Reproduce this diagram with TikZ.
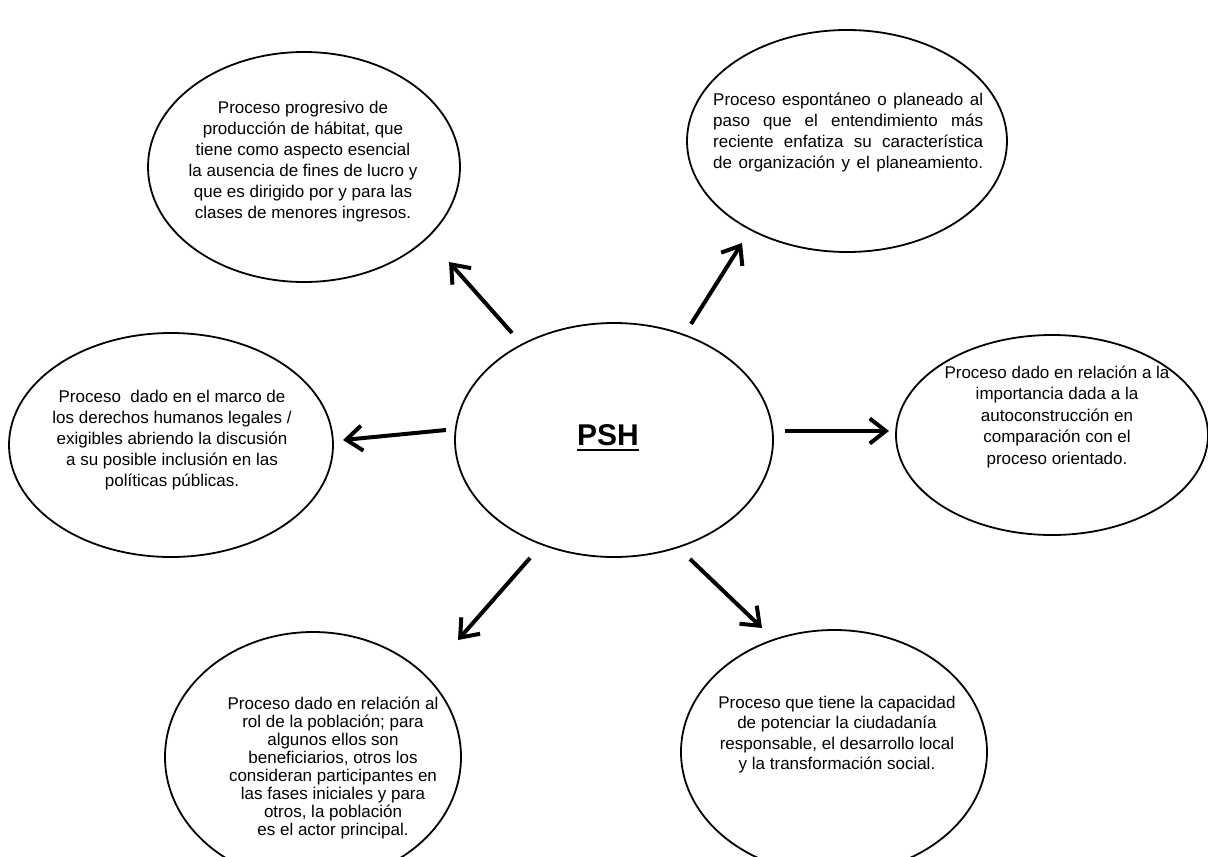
\documentclass[tikz,border=0pt]{standalone}
\usepackage{fontspec}
\setmainfont{Liberation Sans}
\usetikzlibrary{shapes.geometric,arrows.meta}
\tikzset{
  bubble/.style={ellipse, draw, line width=1.8pt, inner sep=0pt},
  txt/.style={inner sep=0pt, align=center, anchor=north},
  arr/.style={line width=4pt, -{Straight Barb[length=16pt,width=25pt]}}
}
\begin{document}
\begin{tikzpicture}[x=1pt,y=-1pt]
\useasboundingbox (0,0) rectangle (1208,857);
% ellipses
\node[bubble, minimum width=318pt, minimum height=234pt] (psh) at (614,440) {};
\node[bubble, minimum width=312pt, minimum height=230pt] (tl) at (304,167) {};
\node[bubble, minimum width=320pt, minimum height=222pt] (tr) at (847,141) {};
\node[bubble, minimum width=312pt, minimum height=200pt] (r) at (1052,435) {};
\node[bubble, minimum width=324pt, minimum height=224pt] (l) at (171,445) {};
\node[bubble, minimum width=296pt, minimum height=250pt] (bl) at (313,757) {};
\node[bubble, minimum width=306pt, minimum height=244pt] (br) at (834,752) {};
% central label
\node[inner sep=0pt, anchor=base, font=\fontsize{30}{36}\selectfont\bfseries] (pshtext) at (608,445) {PSH};
\draw[line width=2.3pt] ([yshift=-5pt]pshtext.base west) -- ([yshift=-5pt]pshtext.base east);
% texts
\node[txt, font=\fontsize{17}{21}\selectfont] (tltext) at (303,98.3) {\strut Proceso progresivo de\\producción de hábitat, que\\tiene como aspecto esencial\\la ausencia de fines de lucro y\\que es dirigido por y para las\\clases de menores ingresos.};
\node[inner sep=0pt, align=left, anchor=north west, font=\fontsize{17}{21}\selectfont] (trtext) at (713,90.3) {\strut\makebox[270pt][s]{Proceso espontáneo o planeado al}\\\makebox[270pt][s]{paso que el entendimiento más}\\\makebox[270pt][s]{reciente enfatiza su característica}\\\makebox[270pt][s]{de organización y el planeamiento.}};
\node[txt, font=\fontsize{17}{21.5}\selectfont] (rtext) at (1057,363) {\strut Proceso dado en relación a la\\importancia dada a la\\autoconstrucción en\\comparación con el\\proceso orientado.};
\node[txt, font=\fontsize{17}{21}\selectfont] (ltext) at (172,387.3) {\strut Proceso~ dado en el marco de\\los derechos humanos legales /\\exigibles abriendo la discusión\\a su posible inclusión en las\\políticas públicas.};
\node[txt, font=\fontsize{17}{18}\selectfont] (bltext) at (333,696.4) {\strut Proceso dado en relación al\\rol de la población; para\\algunos ellos son\\beneficiarios, otros los\\consideran participantes en\\las fases iniciales y para\\otros, la población\\es el actor principal.};
\node[txt, font=\fontsize{17}{20.5}\selectfont] (brtext) at (837,693.6) {\strut Proceso que tiene la capacidad\\de potenciar la ciudadanía\\responsable, el desarrollo local\\y la transformación social.};
% arrow ends
\coordinate (a1s) at (512,333); \coordinate (a1e) at (449,262);
\coordinate (a2s) at (691,324); \coordinate (a2e) at (742,243);
\coordinate (a3s) at (446,430); \coordinate (a3e) at (343,440);
\coordinate (a4s) at (785,431); \coordinate (a4e) at (889,431);
\coordinate (a5s) at (530,558); \coordinate (a5e) at (458,640);
\coordinate (a6s) at (690,559); \coordinate (a6e) at (762,628);
\draw[arr] (a1s) -- (a1e);
\draw[arr] (a2s) -- (a2e);
\draw[arr] (a3s) -- (a3e);
\draw[arr] (a4s) -- (a4e);
\draw[arr] (a5s) -- (a5e);
\draw[arr] (a6s) -- (a6e);
\end{tikzpicture}
\end{document}
